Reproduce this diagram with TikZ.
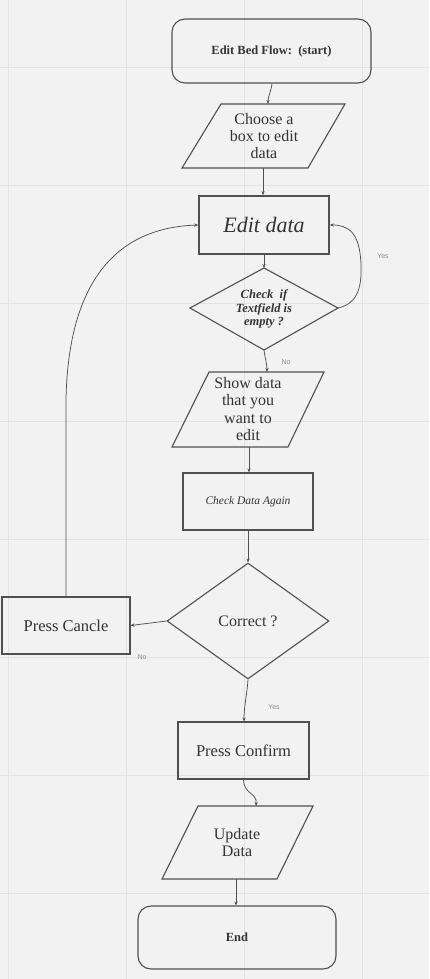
\documentclass[tikz,border=0pt]{standalone}
\usepackage{fontspec}
\setmainfont{Liberation Serif}
\newfontfamily\labelfont{Liberation Sans}
\usetikzlibrary{shapes.geometric,arrows.meta}
\definecolor{bgc}{HTML}{F2F2F2}
\definecolor{gridc}{HTML}{E3E3E3}
\definecolor{linec}{HTML}{505050}
\definecolor{labc}{HTML}{8A8A8A}
\definecolor{txtc}{HTML}{333333}
\tikzset{
  shapeline/.style={draw=linec, line width=1.1pt},
  boxnode/.style={shapeline, rectangle, inner sep=0pt, align=center, text=txtc},
  termnode/.style={boxnode, rounded corners=13pt},
  decnode/.style={shapeline, diamond, inner sep=0pt, align=center, text=txtc},
  txtnode/.style={inner sep=0pt, align=center, text=txtc},
  conn/.style={draw=linec, line width=0.75pt, -{Stealth[length=4pt,width=3.2pt]}},
  lab/.style={text=labc, font=\labelfont\fontsize{7}{8}\selectfont, inner sep=0pt},
  gridline/.style={draw=gridc, line width=0.9pt}
}
\begin{document}
\begin{tikzpicture}[x=1pt,y=-1pt]
\useasboundingbox (0,0) rectangle (429,979);
\fill[bgc] (0,0) rectangle (429,979);
\foreach \gx in {8,126,244,362} \draw[gridline] (\gx,0) -- (\gx,979);
\foreach \gy in {67,185,303,421,539,657,775,893} \draw[gridline] (0,\gy) -- (429,\gy);

% start
\node[termnode, minimum width=199pt, minimum height=64pt, font=\bfseries\fontsize{12.5}{14}\selectfont] (start) at (271.5,51) {Edit Bed Flow:~~(start)};
% choose parallelogram
\draw[shapeline] (221,104) -- (345,104) -- (308,168) -- (182,168) -- cycle;
\coordinate (choose-in) at (268,104);
\coordinate (choose-out) at (263,168);
\node[txtnode, font=\fontsize{16}{17}\selectfont] (choose) at (264,136) {Choose a\\box to edit\\data};
% edit data
\node[boxnode, line width=1.6pt, minimum width=130pt, minimum height=58pt, font=\itshape\fontsize{22}{24}\selectfont] (edit) at (264,225) {Edit data};
% check diamond
\draw[shapeline] (264,268) coordinate (check-n) -- (338,308) coordinate (check-e) -- (264,350) coordinate (check-s) -- (190,308) coordinate (check-w) -- cycle;
\node[txtnode, font=\bfseries\itshape\fontsize{12.5}{13.5}\selectfont] (check) at (264,309) {Check~~if\\Textfield is\\empty ?};
% show data parallelogram
\draw[shapeline] (209,372) -- (324,372) -- (288,447) -- (172,447) -- cycle;
\coordinate (show-in) at (267,372);
\coordinate (show-out) at (249,447);
\node[txtnode, font=\fontsize{16}{17.3}\selectfont] (show) at (248,409) {Show data\\that you\\want to\\edit};
% check data again
\node[boxnode, minimum width=130pt, minimum height=57pt, font=\itshape\fontsize{11.5}{13}\selectfont] (again) at (248,501.5) {Check Data Again};
% correct diamond
\node[decnode, minimum width=162pt, minimum height=116pt, font=\fontsize{16}{18}\selectfont] (correct) at (248,621) {Correct ?};
% press cancle
\node[boxnode, minimum width=128pt, minimum height=57pt, font=\fontsize{16.5}{18}\selectfont] (cancel) at (66,625.5) {Press Cancle};
% press confirm
\node[boxnode, minimum width=131pt, minimum height=57pt, font=\fontsize{16.5}{18}\selectfont] (confirm) at (243.5,750.5) {Press Confirm};
% update data parallelogram
\draw[shapeline] (198,806) -- (313,806) -- (277,879) -- (162,879) -- cycle;
\coordinate (update-in) at (256,806);
\coordinate (update-out) at (236,879);
\node[txtnode, font=\fontsize{16}{17}\selectfont] (update) at (237,843) {Update\\Data};
% end
\node[termnode, minimum width=198pt, minimum height=63pt, font=\bfseries\fontsize{12.5}{14}\selectfont] (end) at (237,937.5) {End};

% connectors
\draw[conn] ([xshift=0.5pt]start.south) .. controls (271,92) and (268,96) .. (choose-in);
\draw[conn] (choose-out) -- (choose-out |- edit.north);
\draw[conn] (check-n |- edit.south) -- (check-n);
\draw[conn] (check-e) .. controls (356,304) and (362,290) .. (361,265) .. controls (360,232) and (348,225) .. (edit.east);
\node[lab] (yes1) at (383,256) {Yes};
\draw[conn] (check-s) .. controls (265,358) and (267,364) .. (show-in);
\node[lab] (no1) at (286,362) {No};
\draw[conn] (show-out) -- (show-out |- again.north);
\draw[conn] (again.south) -- (correct.north);
\draw[conn] (correct.west) -- (cancel.east);
\node[lab] (no2) at (142,657) {No};
\draw[conn] (cancel.north) -- (66,400) .. controls (68,290) and (110,228) .. (edit.west);
\draw[conn] (correct.south) .. controls (247,695) and (244,706) .. ([xshift=0.5pt]confirm.north);
\node[lab] (yes2) at (274,707) {Yes};
\draw[conn] (confirm.south) .. controls (244,795) and (257,792) .. (update-in);
\draw[conn] (update-out) -- (update-out |- end.north);
\end{tikzpicture}
\end{document}
